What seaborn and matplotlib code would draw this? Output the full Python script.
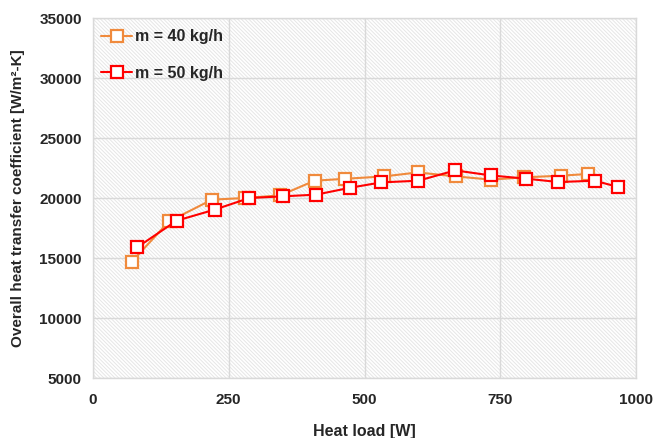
import matplotlib
matplotlib.use("Agg")
import matplotlib.pyplot as plt
import seaborn as sns
import pandas as pd

x40 = [71, 140, 219, 280, 345, 408, 464, 536, 598, 668, 733, 793, 862, 911]
y40 = [14670, 18050, 19860, 20000, 20220, 21440, 21600, 21800, 22130, 21800, 21530, 21720, 21860, 22000]
x50 = [81, 154, 224, 288, 350, 411, 474, 531, 599, 667, 733, 798, 857, 924, 967]
y50 = [15880, 18110, 19030, 20000, 20140, 20280, 20860, 21300, 21440, 22300, 21880, 21610, 21330, 21440, 20920]
labels = ["m = 40 kg/h", "m = 50 kg/h"]
colors = ["#F08A3C", "#FF0000"]

sns.set_theme(style="white")
plt.rcParams['font.family'] = ['Liberation Sans', 'DejaVu Sans']
plt.rcParams['hatch.color'] = '#e6e6e6'
plt.rcParams['hatch.linewidth'] = 0.7

fig = plt.figure(figsize=(6.57, 4.38), dpi=100)
ax = fig.add_axes([93/657, 1-378/438, (636-93)/657, (378-18)/438])

ax.patch.set_facecolor('white')
ax.patch.set_hatch('\\' * 9)
ax.patch.set_edgecolor('#e6e6e6')

df40 = pd.DataFrame({"x": x40, "y": y40})
df50 = pd.DataFrame({"x": x50, "y": y50})
for df, lab, c in [(df40, labels[0], colors[0]), (df50, labels[1], colors[1])]:
    sns.lineplot(data=df, x="x", y="y", ax=ax, color=c, label=lab, marker='s',
                 markersize=8.5, markerfacecolor='white', markeredgecolor=c,
                 markeredgewidth=1.6, linewidth=1.5, sort=False, zorder=3)

ax.set_xlim(0, 1000)
ax.set_ylim(5000, 35000)
ax.set_xticks([0, 250, 500, 750, 1000])
ax.set_yticks(range(5000, 35001, 5000))
ax.grid(True, color='#d9d9d9', linewidth=1.0, zorder=0)
ax.set_axisbelow(True)
for s in ax.spines.values():
    s.set_color('#d9d9d9')
    s.set_linewidth(1.0)
ax.tick_params(axis='both', length=0, labelsize=11)
ax.tick_params(axis='y', pad=8)
ax.tick_params(axis='x', pad=11)
for t in ax.get_xticklabels() + ax.get_yticklabels():
    t.set_fontweight('bold')

ax.set_xlabel("Heat load [W]", fontsize=11.5, fontweight='bold', labelpad=12)
ax.set_ylabel("Overall heat transfer coefficient [W/m²-K]", fontsize=11, fontweight='bold', labelpad=10)

leg = ax.legend(loc='upper left', frameon=False, prop={'weight': 'bold', 'size': 11.5},
                handlelength=1.9, handletextpad=0.2, labelspacing=1.35,
                borderaxespad=0.3, bbox_to_anchor=(-0.005, 1.0))

fig.savefig("out.png", dpi=100)
